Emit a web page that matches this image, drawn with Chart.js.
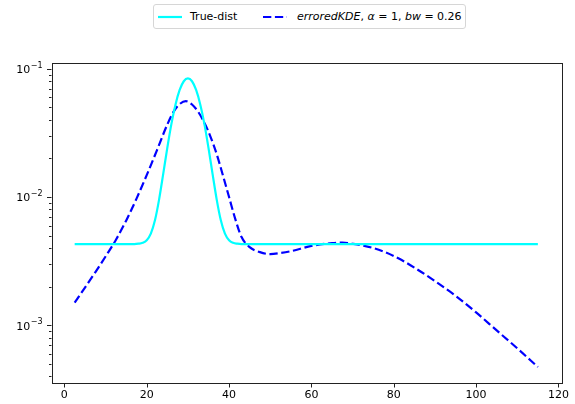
<!DOCTYPE html>
<html>
<head>
<meta charset="utf-8">
<script src="https://cdn.jsdelivr.net/npm/chart.js@4.4.1/dist/chart.umd.min.js"></script>
<style>
  body { margin: 0; background: #fff; }
  #wrap { position: relative; width: 575px; height: 404px; }
  #legend {
    position: absolute; left: 153px; top: 4px; width: 311px; height: 23px;
    border: 1px solid #d6d6d6; border-radius: 3px; background: #fff;
    font: 11px "DejaVu Sans", sans-serif; color: #000;
  }
  #legend .item { position: absolute; top: 5px; white-space: nowrap; }
  #legend svg { position: absolute; top: 10px; }
</style>
</head>
<body>
<div id="wrap">
  <canvas id="chart" width="575" height="404"></canvas>
  <div id="legend">
    <svg style="left:4px" width="25" height="4"><line x1="0" y1="2" x2="24" y2="2" stroke="cyan" stroke-width="2.2"/></svg>
    <span class="item" style="left:36px">True-dist</span>
    <svg style="left:109px" width="25" height="4"><line x1="0" y1="2" x2="24" y2="2" stroke="blue" stroke-width="2.2" stroke-dasharray="8.3 3.6"/></svg>
    <span class="item" style="left:143px"><i>erroredKDE</i>, <i>α</i> = 1, <i>bw</i> = 0.26</span>
  </div>
</div>
<script>
// true distribution
const trueX = [2.5, 10, 17, 18, 19, 20, 21, 22, 23, 24, 25, 26, 27, 28, 29, 30,
  31, 32, 33, 34, 35, 36, 37, 38, 39, 40, 41, 42, 43, 50, 70, 90, 115];
const trueY = [0.0043, 0.0043, 0.0043, 0.00433, 0.0044, 0.00461, 0.00519, 0.00659, 0.00956, 0.0151,
  0.0242, 0.0372, 0.0528, 0.0684, 0.0800, 0.0843,
  0.0800, 0.0684, 0.0528, 0.0372, 0.0242, 0.0151, 0.00956, 0.00659, 0.00519, 0.00461,
  0.0044, 0.00433, 0.0043, 0.0043, 0.0043, 0.0043, 0.0043];

// errored KDE estimate
const kdeX = [2.5, 5, 7.5, 10, 12.5, 15, 17.5, 20, 22.5, 25, 26.5, 28, 29.5, 31, 32.5, 34,
  35.5, 37, 38.5, 40, 41.5, 43, 45, 47.5, 50, 52.5, 55, 60, 65, 67.5, 70, 75, 80, 85,
  90, 95, 100, 105, 110, 115];
const kdeY = [0.00150, 0.00197, 0.00259, 0.00344, 0.00463, 0.00655, 0.00968, 0.01483, 0.02323,
  0.0368, 0.0462, 0.0531, 0.0560, 0.0527, 0.0462, 0.0380, 0.0295, 0.0216, 0.0148,
  0.0100, 0.00676, 0.00490, 0.00407, 0.00372, 0.00359, 0.00366, 0.00378, 0.00416,
  0.00437, 0.00441, 0.00432, 0.00401, 0.00347, 0.00282, 0.00221, 0.00170, 0.00126,
  0.000912, 0.000661, 0.000473];

const xTicks = [0, 20, 40, 60, 80, 100, 120];
const yTickValues = [0.001, 0.01, 0.1];
const yTickExps = ['\u22123', '\u22122', '\u22121'];

Chart.defaults.font.family = '"DejaVu Sans", sans-serif';
Chart.defaults.font.size = 11;
Chart.defaults.color = '#000';

const toPoints = (xs, ys) => xs.map((x, i) => ({ x: x, y: ys[i] }));

// matplotlib style frame, tick marks and 10^n labels
const mplFrame = {
  id: 'mplFrame',
  afterDraw(chart) {
    const ctx = chart.ctx;
    const a = chart.chartArea;
    const xs = chart.scales.x, ys = chart.scales.y;
    ctx.save();
    ctx.strokeStyle = '#222';
    ctx.lineWidth = 1;
    ctx.strokeRect(Math.round(a.left) + 0.5, Math.round(a.top) + 0.5,
      Math.round(a.right - a.left), Math.round(a.bottom - a.top));
    ctx.beginPath();
    xTicks.forEach(v => {
      const px = Math.round(xs.getPixelForValue(v)) + 0.5;
      ctx.moveTo(px, a.bottom); ctx.lineTo(px, a.bottom + 4.5);
    });
    yTickValues.forEach(v => {
      const py = Math.round(ys.getPixelForValue(v)) + 0.5;
      ctx.moveTo(a.left, py); ctx.lineTo(a.left - 4.5, py);
    });
    for (let e = -4; e <= -1; e++) {
      for (let m = 2; m <= 9; m++) {
        const v = m * Math.pow(10, e);
        if (v < ys.min || v > ys.max) continue;
        const py = Math.round(ys.getPixelForValue(v)) + 0.5;
        ctx.moveTo(a.left, py); ctx.lineTo(a.left - 2.5, py);
      }
    }
    ctx.stroke();

    // y labels with real superscripts
    ctx.fillStyle = '#000';
    ctx.textAlign = 'right';
    ctx.textBaseline = 'middle';
    yTickValues.forEach((v, i) => {
      const py = ys.getPixelForValue(v);
      const right = a.left - 9;
      ctx.font = '8px "DejaVu Sans", sans-serif';
      const w = ctx.measureText(yTickExps[i]).width;
      ctx.fillText(yTickExps[i], right, py - 3);
      ctx.font = '11px "DejaVu Sans", sans-serif';
      ctx.fillText('10', right - w - 0.5, py + 1.5);
    });
    ctx.restore();
  }
};

new Chart(document.getElementById('chart'), {
  type: 'line',
  data: {
    datasets: [
      {
        label: 'True-dist',
        data: toPoints(trueX, trueY),
        borderColor: 'cyan',
        borderWidth: 2.2,
        cubicInterpolationMode: 'monotone',
        pointRadius: 0,
        fill: false,
      },
      {
        label: 'erroredKDE, α = 1, bw = 0.26',
        data: toPoints(kdeX, kdeY),
        borderColor: 'blue',
        borderWidth: 2.2,
        borderDash: [8.3, 3.6],
        cubicInterpolationMode: 'monotone',
        pointRadius: 0,
        fill: false,
      },
    ],
  },
  options: {
    responsive: false,
    animation: false,
    devicePixelRatio: 1,
    layout: { padding: { top: 63, right: 9, left: 0, bottom: 0 } },
    scales: {
      x: {
        type: 'linear',
        min: -3.125,
        max: 120.625,
        afterBuildTicks: s => { s.ticks = xTicks.map(v => ({ value: v })); },
        afterFit: s => { s.height = 21; },
        ticks: { autoSkip: false, maxRotation: 0, padding: 6 },
        grid: { display: false, drawTicks: false },
        border: { display: false },
      },
      y: {
        type: 'logarithmic',
        min: 3.55e-4,
        max: 0.111,
        afterBuildTicks: s => { s.ticks = yTickValues.map(v => ({ value: v })); },
        afterFit: s => { s.width = 51.5; },
        ticks: { display: false },
        grid: { display: false, drawTicks: false },
        border: { display: false },
      },
    },
    plugins: {
      legend: { display: false },
      tooltip: { enabled: false },
    },
  },
  plugins: [mplFrame],
});
</script>
</body>
</html>
